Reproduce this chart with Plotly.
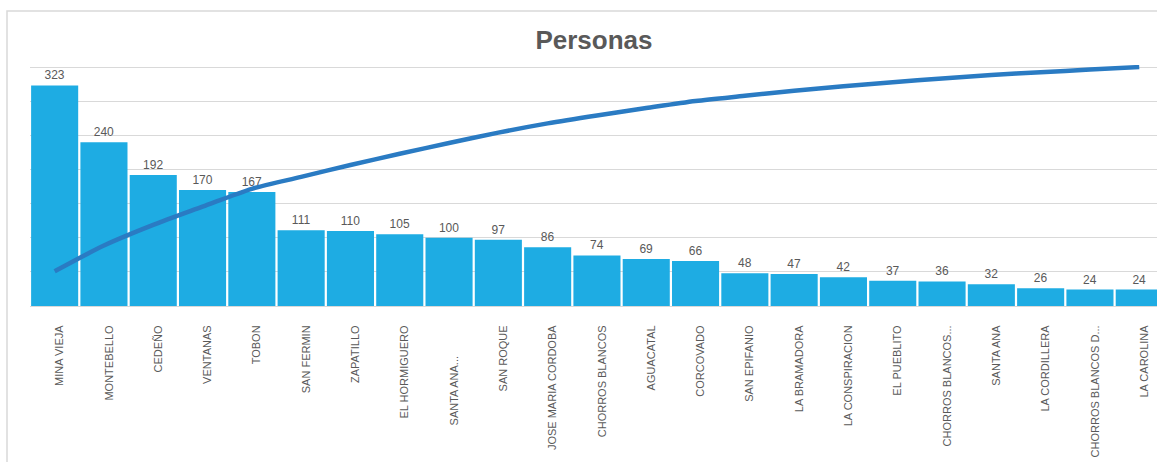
import plotly.graph_objects as go

categories = [
    "MINA VIEJA", "MONTEBELLO", "CEDEÑO", "VENTANAS", "TOBON", "SAN FERMIN",
    "ZAPATILLO", "EL HORMIGUERO", "SANTA ANA..." + "\u00a0" * 10, "SAN ROQUE",
    "JOSE MARIA CORDOBA", "CHORROS BLANCOS", "AGUACATAL", "CORCOVADO",
    "SAN EPIFANIO", "LA BRAMADORA", "LA CONSPIRACION", "EL PUEBLITO",
    "CHORROS BLANCOS...", "SANTA ANA", "LA CORDILLERA", "CHORROS BLANCOS D...",
    "LA CAROLINA",
]
personas = [323, 240, 192, 170, 167, 111, 110, 105, 100, 97, 86, 74, 69, 66,
            48, 47, 42, 37, 36, 32, 26, 24, 24]

total = sum(personas)
cumulative = []
running = 0
for v in personas:
    running += v
    cumulative.append(running / total)

x_idx = list(range(len(categories)))

GRAY = "#595959"
FONT = "Liberation Sans, Arial, sans-serif"

Y_MAX = 350
Y_TOP = 353

fig = go.Figure()
fig.add_trace(go.Bar(
    x=x_idx, y=personas,
    marker=dict(color="#1EACE3", line=dict(width=0)),
    text=[str(v) for v in personas], textposition="outside",
    textfont=dict(family=FONT, size=12, color=GRAY),
    cliponaxis=False,
    name="Personas",
))
fig.add_trace(go.Scatter(
    x=x_idx, y=cumulative, yaxis="y2", mode="lines",
    line=dict(color="#2A7BC3", width=4.5, shape="spline", smoothing=0.8),
    name="Acumulado",
))

W, H = 1157, 462
L, T, B = 30, 65, 156
plot_w = W - L
plot_h = H - T - B
cat_w = 49.3
x_end = -0.5 + plot_w / cat_w

fig.update_layout(
    width=W, height=H,
    margin=dict(l=L, r=0, t=T, b=B),
    paper_bgcolor="white", plot_bgcolor="white",
    showlegend=False,
    bargap=0.045,
    title=dict(text="<b>Personas</b>", x=594 / W, xanchor="center",
               y=1 - 40 / H, yanchor="middle", yref="container",
               font=dict(family=FONT, size=26, color=GRAY)),
    xaxis=dict(
        range=[-0.5, x_end], tickmode="array", tickvals=x_idx,
        ticktext=categories, tickangle=-90,
        tickfont=dict(family=FONT, size=11, color=GRAY),
        ticks="outside", ticklen=14, tickcolor="rgba(0,0,0,0)",
        ticklabelshift=5,
        showgrid=False, showline=False, zeroline=False,
    ),
    yaxis=dict(
        range=[0, Y_TOP], tickmode="linear", tick0=0, dtick=50,
        showticklabels=False,
        showgrid=True, gridcolor="#D9D9D9", gridwidth=1.3,
        zeroline=True, zerolinecolor="#D9D9D9", zerolinewidth=1.3,
        showline=False,
    ),
    yaxis2=dict(
        range=[0, Y_TOP / Y_MAX], overlaying="y", side="right", visible=False,
    ),
    shapes=[dict(
        type="rect", xref="paper", yref="paper",
        x0=(7 - L) / plot_w, x1=1.2,
        y0=-1.0, y1=(H - B - 11) / plot_h,
        line=dict(color="#D9D9D9", width=1.5), fillcolor="rgba(0,0,0,0)",
        layer="below",
    )],
)

fig.write_html("out.html")
